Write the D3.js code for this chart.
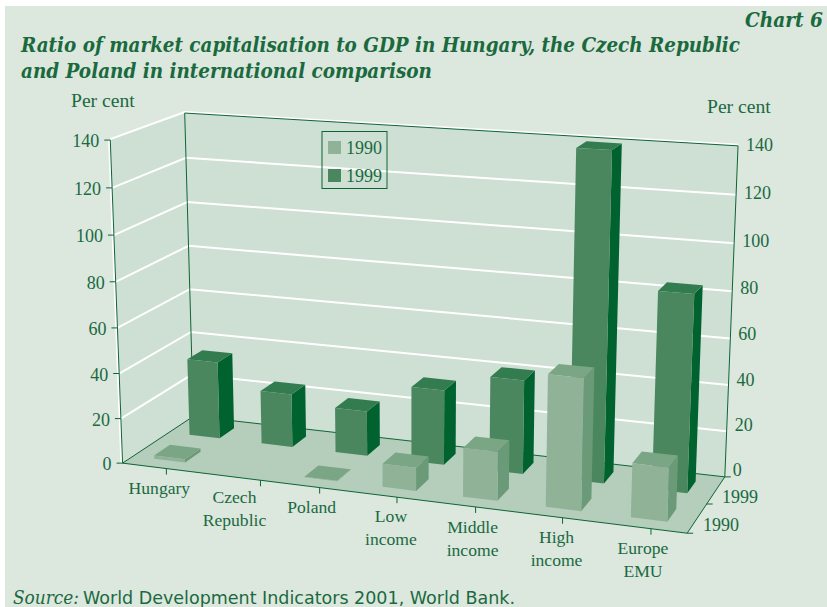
<!DOCTYPE html>
<html><head><meta charset="utf-8">
<script src="https://cdn.jsdelivr.net/npm/d3@7/dist/d3.min.js"></script>
<style>html,body{margin:0;padding:0;background:#fff}svg{display:block}</style></head>
<body><svg id="c" width="827" height="607"></svg>
<script>
const categories = [["Hungary"],["Czech","Republic"],["Poland"],["Low","income"],["Middle","income"],["High","income"],["Europe","EMU"]];
const series = ["1990","1999"];
const values1990 = [1.5,null,0.2,10,21,55.5,22.5];
const values1999 = [35,24,20,33,41,140,84];
const yTicks = [0,20,40,60,80,100,120,140];
const C = {ink:"#1a6a3e",line:"#0f6436",bg:"#dce7de",wall:"#cedfd3",floor:"#b4cebb",
  f99:"#4a875f",s99:"#00622e",t99:"#337c50",f90:"#90b398",s90:"#6b9a78",t90:"#7aa685"};
const tickNudge = [7,26,8,6,3,6,8];

const x = d3.scaleBand().domain(d3.range(7)).range([0,1]).paddingInner(0.58).paddingOuter(0.29);
const y = d3.scaleLinear().domain([0,140]).range([0,1]);
const z = d3.scaleBand().domain(series).range([0,1]).paddingInner(0.56).paddingOuter(0.28);

// Fit a projective camera to the box corners by least squares
const anchors = [[0,0,0,123,462.5],[1,0,0,687,534],[0,0,1,193,417],[1,0,1,725,476],[0,1,0,110,140],[0,1,1,185,113],[1,1,1,738,146]];
function fit(){
  const A=[],b=[];
  anchors.forEach(([X,Y,Z,u,v])=>{
    A.push([X,Y,Z,1,0,0,0,0,-u*X,-u*Y,-u*Z]);b.push(u);
    A.push([0,0,0,0,X,Y,Z,1,-v*X,-v*Y,-v*Z]);b.push(v);
  });
  const n=11,M=d3.range(n).map(i=>d3.range(n+1).map(j=>j<n?d3.sum(A,r=>r[i]*r[j]):d3.sum(A,(r,k)=>r[i]*b[k])));
  for(let i=0;i<n;i++){
    let p=i;for(let r=i+1;r<n;r++)if(Math.abs(M[r][i])>Math.abs(M[p][i]))p=r;
    [M[i],M[p]]=[M[p],M[i]];
    for(let r=0;r<n;r++)if(r!==i){const f=M[r][i]/M[i][i];for(let c=i;c<=n;c++)M[r][c]-=f*M[i][c];}
  }
  return M.map((r,i)=>r[n]/r[i]);
}
const P=fit();
function proj(X,Y,Z){const w=P[8]*X+P[9]*Y+P[10]*Z+1;
  return [(P[0]*X+P[1]*Y+P[2]*Z+P[3])/w,(P[4]*X+P[5]*Y+P[6]*Z+P[7])/w];}
const path = pts => "M"+pts.map(p=>proj(...p).map(v=>v.toFixed(2)).join(",")).join("L")+"Z";
const seg = pts => "M"+pts.map(p=>proj(...p).map(v=>v.toFixed(2)).join(",")).join("L");

const svg=d3.select("#c");
svg.append("rect").attr("x",5).attr("y",6).attr("width",822).attr("height",601).attr("fill",C.bg);

// walls and floor
svg.append("path").attr("d",path([[0,0,0],[0,0,1],[0,1,1],[0,1,0]])).attr("fill",C.wall);
svg.append("path").attr("d",path([[0,0,1],[1,0,1],[1,1,1],[0,1,1]])).attr("fill",C.wall);
svg.append("path").attr("d",path([[0,0,0],[1,0,0],[1,0,1],[0,0,1]])).attr("fill",C.floor);

// gridlines
yTicks.filter(t=>t>0).forEach(t=>{
  const v=y(t);
  svg.append("path").attr("d",seg([[0,v,0],[0,v,1],[1,v,1]])).attr("fill","none").attr("stroke","#fff").attr("stroke-width",2)
    .attr("transform",t===140?"translate(0,-1)":null);
});
svg.append("path").attr("d",seg([[0,1,0],[0,0,0]])).attr("fill","none").attr("stroke","#fff").attr("stroke-width",2.4).attr("transform","translate(-1,0)");

// frame lines
[[[0,0,0],[0,1,0]],[[0,0,1],[0,1,1]],[[0,1,1],[1,1,1]],[[1,1,1],[1,0,1]],[[0,0,0],[0,0,1]],[[0,0,1],[1,0,1]],[[1,0,1],[1,0,0]],[[1,0,0],[0,0,0]]]
.forEach(s=>svg.append("path").attr("d",seg(s)).attr("fill","none").attr("stroke",C.line).attr("stroke-width",1));

// y axes
const txt=(xx,yy,s,anchor,size)=>svg.append("text").attr("x",xx).attr("y",yy).text(s)
  .attr("text-anchor",anchor||"start").attr("font-family","'Liberation Serif',serif").attr("font-size",size||18).attr("fill",C.ink);
yTicks.forEach(t=>{
  const [lx,ly]=proj(0,y(t),0);
  svg.append("line").attr("x1",lx-6).attr("x2",lx).attr("y1",ly).attr("y2",ly).attr("stroke",C.line);
  txt(lx-11,ly+7,t,"end");
  const [rx,ry]=proj(1,y(t),1);
  txt(rx+8,ry+5-(1-y(t))*6,t,"start");
});
txt(71,107,"Per cent","start",19.6);
txt(707,113,"Per cent","start",19.6);

// x axis ticks and labels
categories.forEach((lines,i)=>{
  const cx=x(i)+x.bandwidth()/2;
  const [fx,fy]=proj(cx,0,0);
  const tx=fx+tickNudge[i], ty=fy+(tickNudge[i]*0.125);
  svg.append("line").attr("x1",tx).attr("x2",tx).attr("y1",ty).attr("y2",ty+6).attr("stroke",C.line);
  lines.forEach((s,k)=>txt(fx,fy+26+k*23,s,"middle",17.6));
});
// depth ticks and labels
series.forEach(s=>{
  const zc=z(s)+z.bandwidth()/2;
  const [dx,dy]=proj(1,0,zc);
  txt(dx+6,dy+13,s,"start",18);
});
[0,0.5,1].forEach(t=>{const [dx,dy]=proj(1,0,t);
  svg.append("line").attr("x1",dx).attr("x2",dx+6).attr("y1",dy).attr("y2",dy).attr("stroke",C.line);});

// bars
function box(i,val,s,cf,cs,ct){
  if(val==null)return;
  const x0=x(i),x1=x0+x.bandwidth(),z0=z(s),z1=z0+z.bandwidth(),h=y(val);
  const g=svg.append("g");
  g.append("path").attr("d",path([[x1,0,z0],[x1,0,z1],[x1,h,z1],[x1,h,z0]])).attr("fill",cs);
  g.append("path").attr("d",path([[x0,h,z0],[x1,h,z0],[x1,h,z1],[x0,h,z1]])).attr("fill",ct);
  g.append("path").attr("d",path([[x0,0,z0],[x1,0,z0],[x1,h,z0],[x0,h,z0]])).attr("fill",cf);
}
values1999.forEach((v,i)=>box(i,v,"1999",C.f99,C.s99,C.t99));
values1990.forEach((v,i)=>box(i,v,"1990",C.f90,C.s90,C.t90));

// legend
svg.append("rect").attr("x",322).attr("y",131.5).attr("width",65).attr("height",57).attr("fill","none").attr("stroke",C.line).attr("stroke-width",1);
series.forEach((s,k)=>{
  svg.append("rect").attr("x",328).attr("y",141+k*28).attr("width",13).attr("height",13).attr("fill",k?C.f99:C.f90);
  txt(346,154+k*28,s,"start",18);
});

// titles
const head=(xx,yy,s,len,size)=>svg.append("text").attr("x",xx).attr("y",yy).text(s)
  .attr("font-family","'DejaVu Serif Condensed','DejaVu Serif',serif").attr("font-weight","bold").attr("font-style","italic")
  .attr("font-size",size).attr("fill",C.ink).attr("textLength",len).attr("lengthAdjust","spacingAndGlyphs");
head(21,52,"Ratio of market capitalisation to GDP in Hungary, the Czech Republic",719,20);
head(21,78,"and Poland in international comparison",411,20);
head(745,27,"Chart 6",78,20);
svg.append("text").attr("x",13).attr("y",604).text("Source:").attr("font-family","'DejaVu Serif Condensed',serif").attr("font-style","italic").attr("font-size",18).attr("fill",C.ink).attr("textLength",66).attr("lengthAdjust","spacingAndGlyphs");
svg.append("text").attr("x",83).attr("y",604).text("World Development Indicators 2001, World Bank.").attr("font-family","'DejaVu Sans',sans-serif").attr("font-size",18).attr("fill",C.ink).attr("textLength",432).attr("lengthAdjust","spacingAndGlyphs");
</script></body></html>
